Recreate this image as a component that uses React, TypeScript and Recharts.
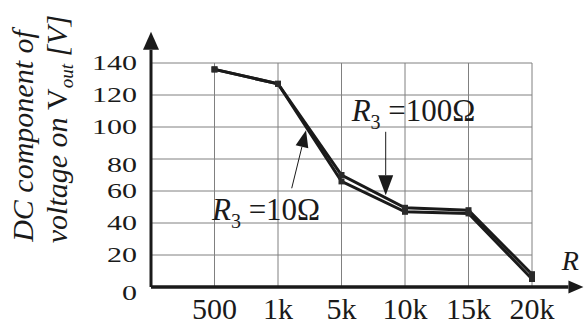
import { LineChart, Line, XAxis, YAxis, CartesianGrid, ReferenceLine, ReferenceDot } from 'recharts'

// R values on the horizontal axis
const CATEGORIES = ['500', '1k', '5k', '10k', '15k', '20k']
// DC component of Vout [V]
const R3_10 = [136, 127, 66, 47, 46, 5]
const R3_100 = [136, 127, 70, 49.5, 48, 8]
const Y_TICKS = [0, 20, 40, 60, 80, 100, 120, 140]

const SERIF = '"Liberation Serif", "Times New Roman", serif'
const INK = '#1a1a1a'

const data = CATEGORIES.map((c, i) => ({ x: i + 1, label: c, r10: R3_10[i], r100: R3_100[i] }))

// line + filled head, drawn from segment point 1 to point 2
const arrow = (head: number, width: number, sw: number) => (p: any) => {
  const { x1, y1, x2, y2 } = p
  const len = Math.hypot(x2 - x1, y2 - y1)
  const ux = (x2 - x1) / len
  const uy = (y2 - y1) / len
  const bx = x2 - ux * head
  const by = y2 - uy * head
  const nx = (-uy * width) / 2
  const ny = (ux * width) / 2
  return (
    <g>
      <line x1={x1} y1={y1} x2={bx} y2={by} stroke={INK} strokeWidth={sw} />
      <polygon points={`${x2},${y2} ${bx + nx},${by + ny} ${bx - nx},${by - ny}`} fill={INK} />
    </g>
  )
}

const SquareDot = (p: any) => (
  <rect key={`d-${p.dataKey}-${p.index}`} x={p.cx - 3} y={p.cy - 3} width={6} height={6} fill="#2a2a2a" />
)

const rLabel = (value: string) => (p: any) => (
  <text x={p.cx} y={p.cy} fontFamily={SERIF} fontSize={31} fill={INK} style={{ whiteSpace: 'pre' }}>
    <tspan fontStyle="italic">R</tspan>
    <tspan fontSize={20} dy={8}>3</tspan>
    <tspan dy={-8}>{` =${value}Ω`}</tspan>
  </text>
)

const tickStyle = { fontFamily: SERIF, fontSize: 30, fill: INK }

const renderXTick = ({ x, y, payload }: any) => (
  <text key={`x-${payload.value}`} x={x} y={y} dy="0.74em" textAnchor="middle" style={tickStyle}>
    {CATEGORIES[payload.value - 1]}
  </text>
)

// tick numbers are squashed vertically in the original, and 0 / 80 sit a bit low
const renderYTick = ({ x, y, payload }: any) => {
  const nudge = payload.value === 0 || payload.value === 80 ? 6 : 0
  return (
    <g key={`y-${payload.value}`} transform={`translate(${x},${y + nudge}) scale(1,0.72)`}>
      <text x={0} y={0} dy="0.34em" textAnchor="end" style={tickStyle}>
        {payload.value}
      </text>
    </g>
  )
}

const YTitle = ({ viewBox }: any) => {
  const left = viewBox?.x ?? 91
  return (
    <g fontFamily={SERIF} fontSize={30} fill={INK} style={{ whiteSpace: 'pre' }}>
      <text transform={`translate(${left - 58},136) rotate(-90)`} textAnchor="middle" fontStyle="italic">
        DC  component of
      </text>
      <text transform={`translate(${left - 24},129) rotate(-90)`} textAnchor="middle">
        <tspan fontStyle="italic">voltage  on </tspan>
        <tspan>V</tspan>
        <tspan fontStyle="italic" fontSize={19} dy={6}>out</tspan>
        <tspan fontStyle="italic" dy={-6}>{'   [V]'}</tspan>
      </text>
    </g>
  )
}

export default function App() {
  return (
    <div style={{ position: 'absolute', left: 0, top: 0, background: '#fff' }}>
      <LineChart width={584} height={327} data={data} margin={{ top: 63, right: 52, left: 91, bottom: 10 }}>
        <CartesianGrid stroke="#808080" strokeWidth={1} />
        <XAxis
          type="number"
          dataKey="x"
          domain={[0, 6]}
          ticks={[1, 2, 3, 4, 5, 6]}
          axisLine={false}
          tickLine={false}
          tickSize={0}
          tickMargin={10}
          height={30}
          tick={renderXTick}
          interval={0}
        />
        <YAxis
          type="number"
          domain={[0, 140]}
          ticks={Y_TICKS}
          axisLine={false}
          tickLine={false}
          tickSize={0}
          tickMargin={14}
          width={60}
          tick={renderYTick}
          interval={0}
          label={{ content: (props: any) => <YTitle {...props} /> }}
        />

        {/* axes with arrow heads */}
        <ReferenceLine segment={[{ x: 0, y: 0 }, { x: 0, y: 159.5 }]} ifOverflow="visible" shape={arrow(18, 16, 3)} />
        <ReferenceLine segment={[{ x: 0, y: 0 }, { x: 6.81, y: 0 }]} ifOverflow="visible" shape={arrow(15, 13, 3.5)} />

        <Line type="linear" dataKey="r100" stroke={INK} strokeWidth={3} dot={SquareDot} activeDot={false} isAnimationActive={false} />
        <Line type="linear" dataKey="r10" stroke={INK} strokeWidth={3} dot={SquareDot} activeDot={false} isAnimationActive={false} />

        {/* annotations */}
        <ReferenceLine segment={[{ x: 3.696, y: 97 }, { x: 3.696, y: 57.3 }]} ifOverflow="visible" shape={arrow(20, 15, 1)} />
        <ReferenceLine segment={[{ x: 2.216, y: 61.7 }, { x: 2.441, y: 98 }]} ifOverflow="visible" shape={arrow(17, 13, 1)} />
        <ReferenceDot x={3.16} y={104} ifOverflow="visible" shape={rLabel('100')} />
        <ReferenceDot x={0.96} y={41.7} ifOverflow="visible" shape={rLabel('10')} />
        <ReferenceDot
          x={6.47}
          y={10.4}
          ifOverflow="visible"
          shape={(p: any) => (
            <text x={p.cx} y={p.cy} fontFamily={SERIF} fontSize={28} fontStyle="italic" fill={INK}>
              R
            </text>
          )}
        />
      </LineChart>
    </div>
  )
}
